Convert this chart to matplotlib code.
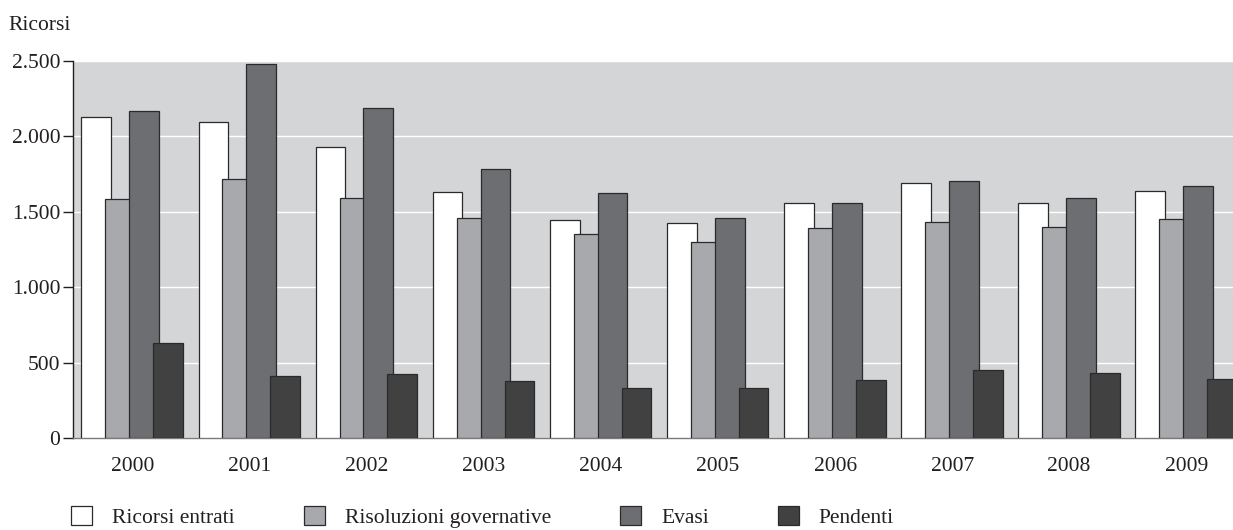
import matplotlib.pyplot as plt
import matplotlib.patches as mpatches
import numpy as np

# data
anni = ['2000', '2001', '2002', '2003', '2004', '2005', '2006', '2007', '2008', '2009']
ricorsi_entrati = [2130, 2095, 1933, 1632, 1448, 1427, 1556, 1693, 1556, 1640]
risoluzioni_gov = [1585, 1715, 1593, 1462, 1356, 1303, 1393, 1435, 1397, 1452]
evasi = [2166, 2480, 2188, 1784, 1625, 1460, 1559, 1706, 1594, 1671]
pendenti = [628, 409, 425, 379, 329, 331, 384, 450, 429, 389]

serie = [ricorsi_entrati, risoluzioni_gov, evasi, pendenti]
nomi = ['Ricorsi entrati', 'Risoluzioni governative', 'Evasi', 'Pendenti']
colori = ['#ffffff', '#a8a9ad', '#6d6e71', '#414142']

plt.rcParams['font.family'] = ['Liberation Serif', 'DejaVu Serif']
testo = '#231f20'
fs = 15.5

fig = plt.figure(figsize=(12.33, 5.30), dpi=100)
ax = fig.add_axes([73 / 1233, 1 - 438 / 530, 1 - 73 / 1233, (438 - 61) / 530])
ax.set_facecolor('#d4d5d7')

x = np.arange(len(anni))
w = 0.256
step = 0.205
offs = [-1.5 * step, -0.5 * step, 0.5 * step, 1.5 * step]
for k in range(4):
    ax.bar(x + offs[k] - 0.005, serie[k], width=w, color=colori[k],
           edgecolor='#2a2a2a', linewidth=0.9, zorder=3 + k)

ax.set_ylim(0, 2500)
ax.set_xlim(-0.513, 9.4)
ax.set_yticks([0, 500, 1000, 1500, 2000, 2500])
ax.set_yticklabels(['0', '500', '1.000', '1.500', '2.000', '2.500'])
ax.set_xticks(x)
ax.set_xticklabels(anni)
ax.yaxis.grid(True, color='white', linewidth=1.0, zorder=1)
ax.set_axisbelow(True)

for s in ['top', 'right']:
    ax.spines[s].set_visible(False)
ax.spines['left'].set_color(testo)
ax.spines['left'].set_linewidth(1.0)
ax.spines['bottom'].set_color('#7a7a7a')
ax.spines['bottom'].set_linewidth(1.0)
ax.tick_params(axis='y', length=7, width=1.0, color=testo, labelsize=fs,
               labelcolor=testo, pad=2)
ax.tick_params(axis='x', length=0, labelsize=fs, labelcolor=testo, pad=14)

fig.text(8 / 1233, 1 - 26 / 530, 'Ricorsi', fontsize=fs, color=testo,
         ha='left', va='center')

handles = [mpatches.Patch(facecolor=colori[k], edgecolor='#2a2a2a', linewidth=0.9)
           for k in range(4)]
fig.legend(handles, nomi, ncol=4, frameon=False, fontsize=fs,
           loc='center left', bbox_to_anchor=(71 / 1233, 1 - 517 / 530),
           borderpad=0, borderaxespad=0, handlelength=0.98, handleheight=0.98,
           handletextpad=0.93, columnspacing=3.2, labelcolor=testo)

fig.savefig('out.png', dpi=100)
